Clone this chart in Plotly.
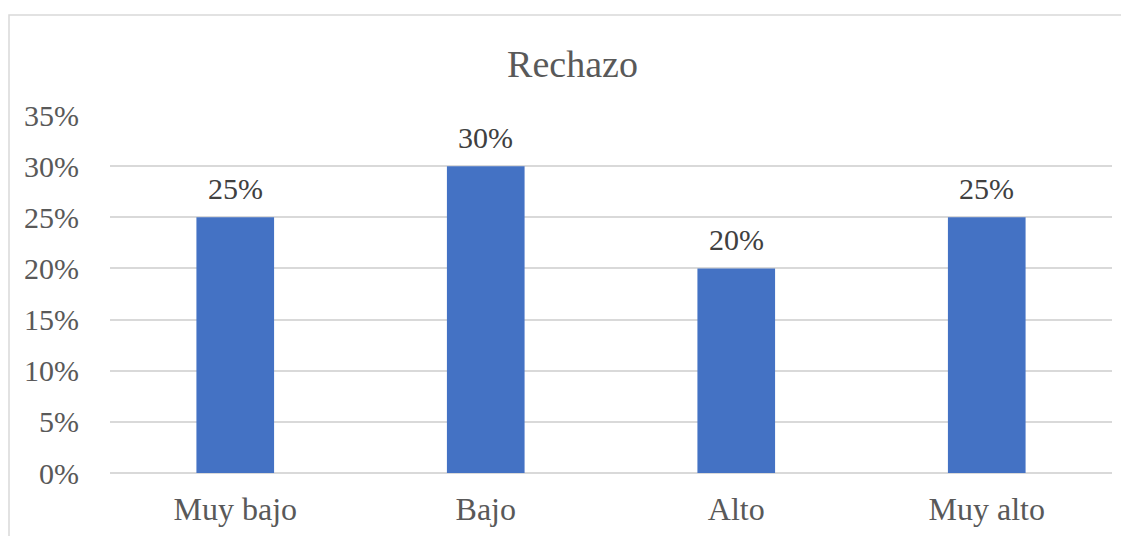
import plotly.graph_objects as go

categories = ["Muy bajo", "Bajo", "Alto", "Muy alto"]
values = [0.25, 0.30, 0.20, 0.25]
labels = ["25%", "30%", "20%", "25%"]
tick_vals = [0, 0.05, 0.10, 0.15, 0.20, 0.25, 0.30, 0.35]
tick_text = ["0%", "5%", "10%", "15%", "20%", "25%", "30%", "35%"]

FONT = "Liberation Serif, Times New Roman, serif"

fig = go.Figure(go.Bar(
    x=categories, y=values,
    marker=dict(color="#4472C4", line=dict(width=0)),
    hoverinfo="x+y",
))

for c, v, t in zip(categories, values, labels):
    fig.add_annotation(x=c, y=v, text=t, showarrow=False, xref="x", yref="y",
                       yanchor="bottom", yshift=10,
                       font=dict(family=FONT, size=30, color="#404040"))

fig.update_layout(
    width=1129, height=536,
    margin=dict(l=102, r=25, t=107, b=71),
    paper_bgcolor="white", plot_bgcolor="white",
    bargap=0.69,
    showlegend=False,
    title=dict(text="Rechazo", x=0.5, xanchor="center", y=0.8955, yanchor="middle",
               font=dict(family=FONT, size=38, color="#595959")),
    font=dict(family=FONT, color="#595959"),
    xaxis=dict(showgrid=False, showline=False, ticks="",
               tickfont=dict(family=FONT, size=32, color="#595959"),
               ticklabelstandoff=14),
    yaxis=dict(range=[0, 0.35], tickvals=tick_vals, ticktext=tick_text,
               showgrid=True, gridcolor="#D9D9D9", gridwidth=1.5,
               zeroline=True, zerolinecolor="#D9D9D9", zerolinewidth=1.5,
               showline=False, ticks="",
               tickfont=dict(family=FONT, size=30, color="#595959"),
               ticklabelstandoff=30),
    shapes=[dict(type="rect", xref="paper", yref="paper",
                 x0=(1.0 - 102) / 1002, x1=1.2, y0=-0.5, y1=1 + 100 / 358,
                 line=dict(color="#D9D9D9", width=1.5), layer="below")],
)

fig.write_html("out.html")
